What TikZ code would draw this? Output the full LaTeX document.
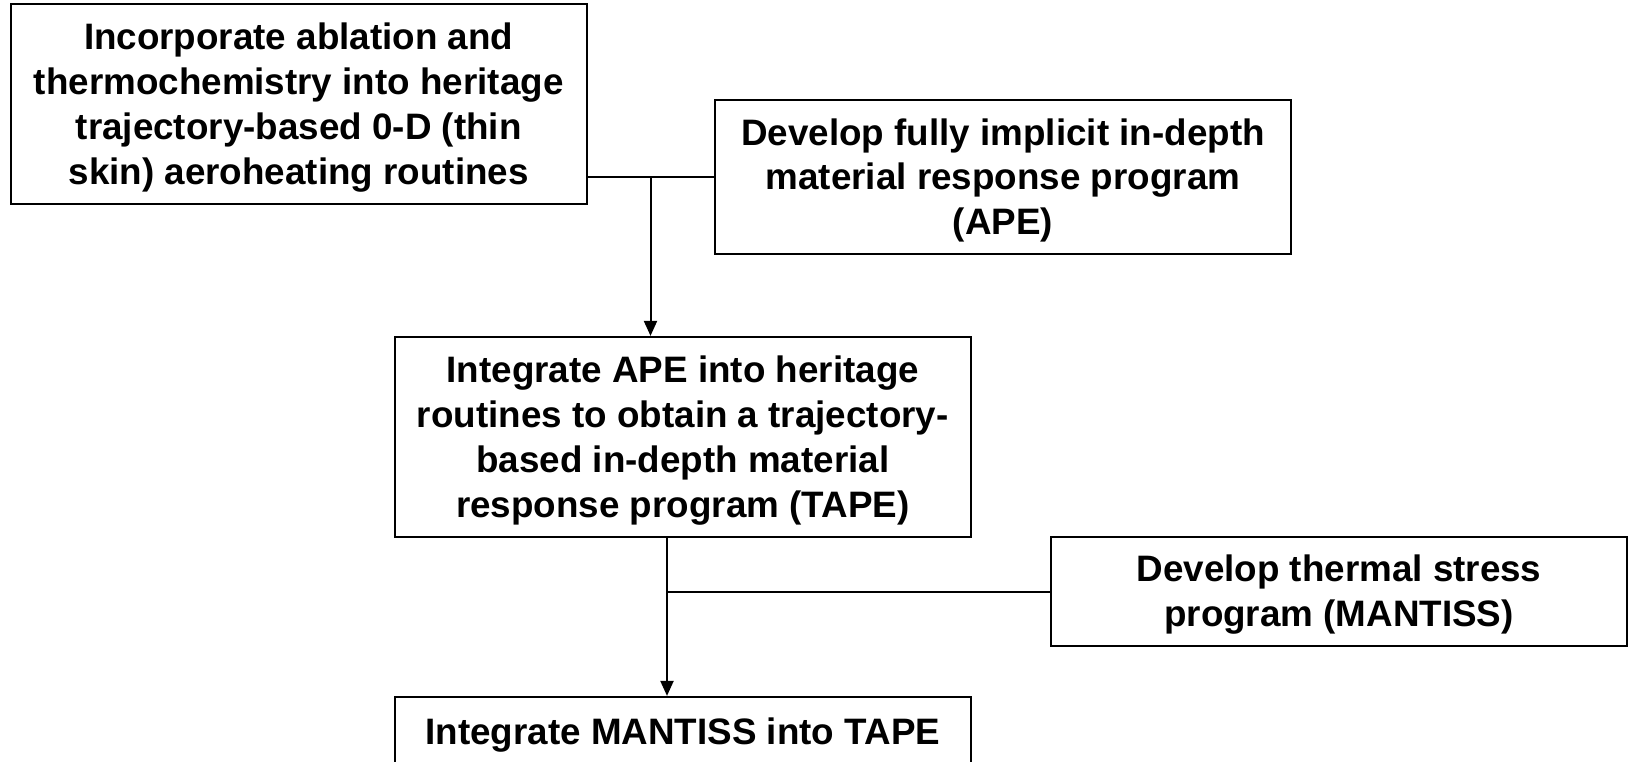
\documentclass[tikz,border=0pt]{standalone}
\usepackage{fontspec}
\setmainfont{Liberation Sans}
\usetikzlibrary{arrows.meta}
\newcommand\toppad{\rule{0pt}{33.5pt}}
\tikzset{
  box/.style={draw=black, line width=2.2pt, inner sep=0pt, align=center,
    font=\bfseries\fontsize{36.8}{44.8}\selectfont, minimum width=576pt},
  conn/.style={line width=2pt, black},
  arr/.style={conn, -{Triangle[length=15pt,width=13pt]}}
}
\begin{document}
\begin{tikzpicture}[x=1pt,y=-1pt]
\useasboundingbox (0,0) rectangle (1632,761);
\clip (0,0) rectangle (1632,761);
\node[box, minimum height=200pt] (A) at (298.7,104.1)
  {\toppad Incorporate ablation and\\thermochemistry into heritage\\trajectory-based 0-D (thin\\skin) aeroheating routines};
\node[box, minimum height=154pt] (B) at (1003,177)
  {\toppad Develop fully implicit in-depth\\material response program\\(APE)};
\node[box, minimum height=200pt] (C) at (682.8,437)
  {\toppad Integrate APE into heritage\\routines to obtain a trajectory-\\based in-depth material\\response program (TAPE)};
\node[box, minimum height=109pt] (D) at (1339,591.5)
  {\toppad Develop thermal stress\\program (MANTISS)};
\node[box, minimum height=70pt] (E) at (682.8,732)
  {\toppad Integrate MANTISS into TAPE};
\coordinate (j1) at (650.5,177);
\coordinate (j2) at (667,591.5);
\draw[conn] (B.west) -- (A.east |- B.west);
\draw[arr] (j1) -- (j1 |- C.north);
\draw[conn] (D.west) -- (j2);
\draw[arr] (j2 |- C.south) -- (j2 |- E.north);
\end{tikzpicture}
\end{document}
